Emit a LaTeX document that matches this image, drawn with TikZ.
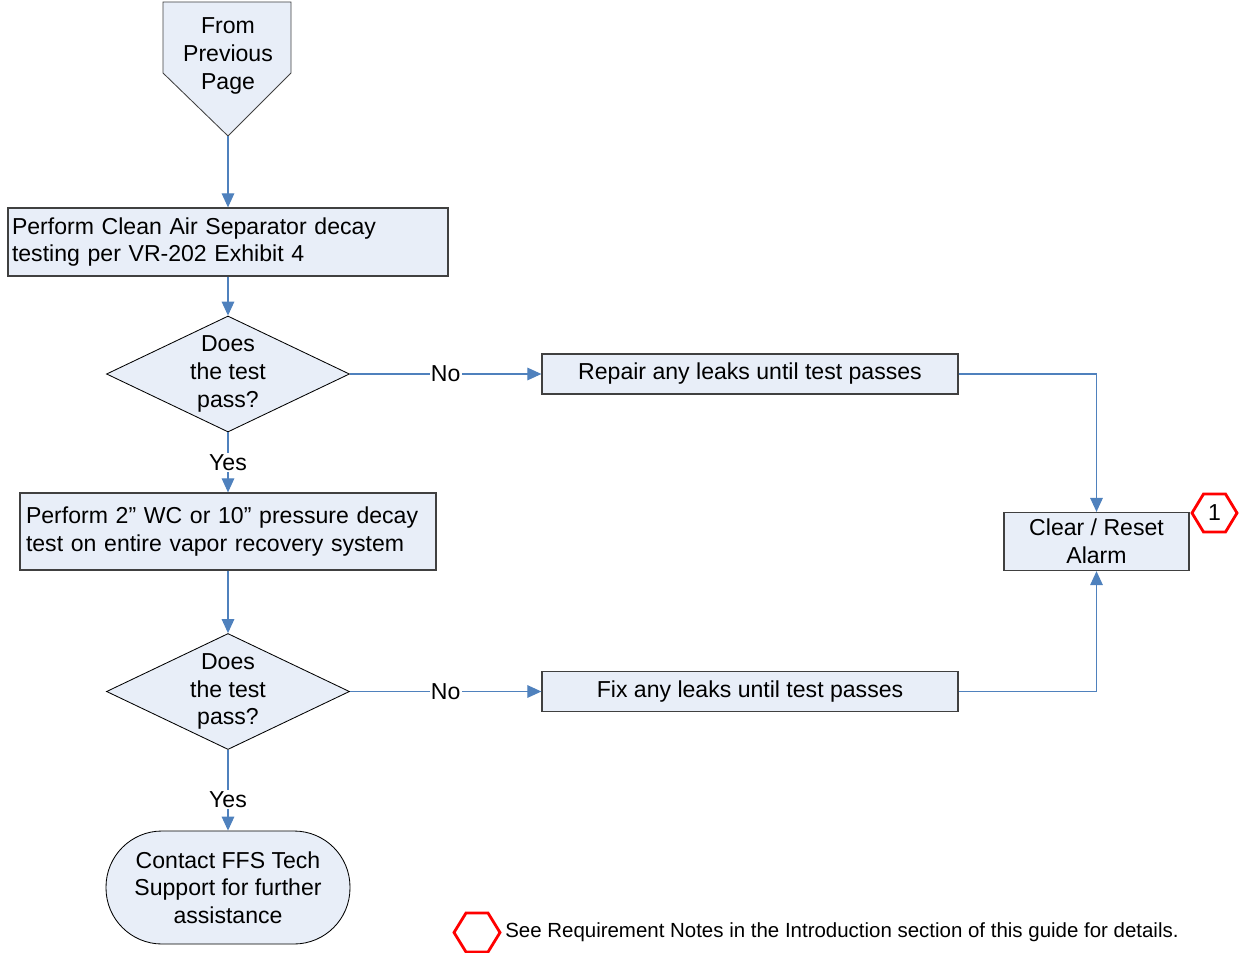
\documentclass[tikz,border=0pt]{standalone}
\usepackage{fontspec}
\setmainfont{Liberation Sans}
\usetikzlibrary{shapes.geometric,arrows.meta}

\definecolor{shapefill}{RGB}{232,238,248}
\definecolor{flowblue}{RGB}{79,129,189}
\definecolor{shapeline}{RGB}{64,64,64}

\tikzset{
  px/.style={x=0.025cm,y=-0.025cm},
  txt/.style={font=\fontsize{16.4}{19.6}\selectfont},
  procbox/.style={draw=shapeline,line width=0.9pt,fill=shapefill,inner sep=2pt,txt},
  decision/.style={diamond,draw=black,line width=0.6pt,fill=shapefill,inner sep=0pt,
    aspect=2.1,minimum width=243*0.025cm,minimum height=116*0.025cm,align=center,txt},
  flow/.style={draw=flowblue,line width=0.8pt,-{Triangle[length=10pt,width=9pt]}},
  lbl/.style={fill=white,inner sep=1pt,txt},
  notemark/.style={draw=red,line width=2pt,line join=miter},
}

\begin{document}
\begin{tikzpicture}[px]
\useasboundingbox (0,0) rectangle (1240,952);

% off-page connector at the top
\draw[draw=shapeline,line width=0.6pt,fill=shapefill]
  (163,2) -- (291,2) -- (291,73) -- (228,136) -- (163,73) -- cycle;
\node[txt,align=center] (start) at (228,56) {From\\Previous\\Page};
\coordinate (starttip) at (228,136);

% process steps
\node[procbox,minimum width=440*0.025cm,minimum height=68*0.025cm,
      text width=432*0.025cm,align=left] (cas) at (228,242)
  {Perform Clean Air Separator decay\\testing per VR-202 Exhibit 4};
\node[decision] (q1) at (228,374) {Does\\the test\\pass?};
\node[procbox,minimum width=416*0.025cm,minimum height=77*0.025cm,
      text width=404*0.025cm,align=left] (decay) at (228,531.5)
  {Perform 2” WC or 10” pressure decay\\test on entire vapor recovery system};
\node[decision] (q2) at (228,691.5) {Does\\the test\\pass?};
\node[procbox,minimum width=416*0.025cm,minimum height=40*0.025cm,align=center]
  (repair) at (750,374) {Repair any leaks until test passes};
\node[procbox,minimum width=416*0.025cm,minimum height=40*0.025cm,align=center]
  (fix) at (750,691.5) {Fix any leaks until test passes};
\node[procbox,minimum width=185*0.025cm,minimum height=58*0.025cm,align=center]
  (reset) at (1096.5,541.5) {Clear / Reset\\Alarm};

% terminator
\node[draw=black,line width=0.6pt,fill=shapefill,rectangle,rounded corners=56*0.025cm,
      minimum width=244*0.025cm,minimum height=113*0.025cm,align=center,txt]
  (support) at (228,887.5) {Contact FFS Tech\\Support for further\\assistance};

% requirement marker next to the alarm step
\node[txt,inner sep=0pt] (note1) at (1214.5,513) {1};
\draw[notemark] (1192,513) -- (1203.5,494) -- (1225.5,494) -- (1237,513)
  -- (1225.5,532) -- (1203.5,532) -- cycle;

% legend
\draw[notemark] (454,932.5) -- (466,913) -- (488,913) -- (500,932.5)
  -- (488,952) -- (466,952) -- cycle;
\node[anchor=west,inner sep=0pt,font=\fontsize{14.55}{17}\selectfont] (legend) at (505,932.5)
  {See Requirement Notes in the Introduction section of this guide for details.};

% connectors
\draw[flow] (starttip) -- (cas.north);
\draw[flow] (cas.south) -- (q1.north);
\draw[flow] (q1.east) -- node[lbl] {No} (repair.west);
\draw[flow] (q1.south) -- node[lbl] {Yes} (decay.north);
\draw[flow] (decay.south) -- (q2.north);
\draw[flow] (q2.east) -- node[lbl] {No} (fix.west);
\draw[flow] (q2.south) -- node[lbl,pos=0.62] {Yes} (support.north);
\draw[flow] (repair.east) -| (reset.north);
\draw[flow] (fix.east) -| (reset.south);
\end{tikzpicture}
\end{document}
